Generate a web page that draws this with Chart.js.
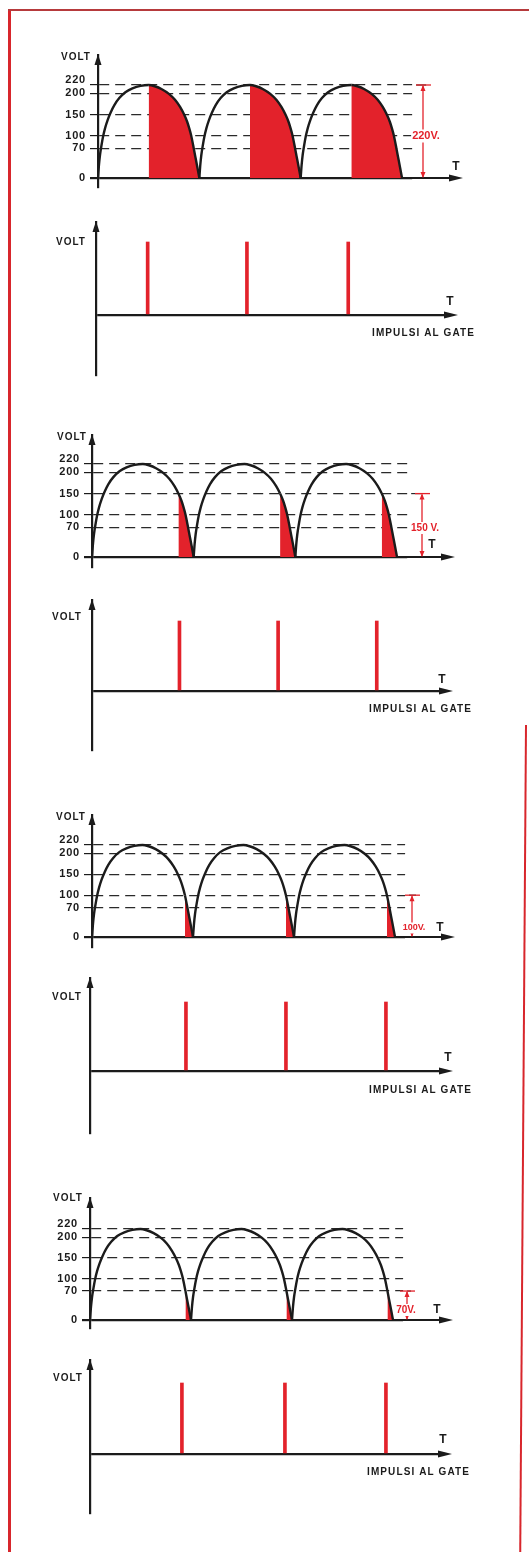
<!DOCTYPE html>
<html><head><meta charset="utf-8">
<script src="https://cdn.jsdelivr.net/npm/chart.js@4.4.1/dist/chart.umd.min.js"></script>
<style>
html,body{margin:0;padding:0;background:#fff;}
#page{position:relative;width:529px;height:1552px;overflow:hidden;background:#fff;}
#page canvas{position:absolute;left:0;}
.rb{position:absolute;background:#d8262c;}
</style></head><body>
<div id="page">
<div class="rb" style="left:8px;top:9px;width:2.5px;height:1543px"></div>
<div class="rb" style="left:8px;top:9px;width:521px;height:2px;background:#b63a3c"></div>
<div class="rb" style="left:525px;top:725px;width:2px;height:830px;transform:rotate(0.4deg);transform-origin:top left"></div>
</div>
<script>
// ---------- data ----------
const levels = [0, 70, 100, 150, 200, 220];            // volt tick labels / dashed reference lines
const waveT = [
  0, 1, 2, 3.5, 5, 7, 9.5, 12.5, 16, 21, 27, 34, 42, 50, 56, 63, 70, 76, 81, 85, 88, 90, 92, 94.5, 96, 98, 100, 100,
  100, 101, 102, 103.5, 105, 107, 109.5, 112.5, 116, 121, 127, 134, 142, 150, 156, 163, 170, 176, 181, 185, 188, 190, 192, 194.5, 196, 198, 200, 200,
  200, 201, 202, 203.5, 205, 207, 209.5, 212.5, 216, 221, 227, 234, 242, 250, 256, 263, 270, 276, 281, 285, 288, 290, 292, 294.5, 296, 298, 300
];
const waveV = [
  0, 32, 55, 78, 98, 118, 137, 155, 172, 189, 203, 212, 218, 220, 217, 210, 199, 185, 168, 150, 133, 118, 100, 70, 51, 26, 0, null,
  0, 32, 55, 78, 98, 118, 137, 155, 172, 189, 203, 212, 218, 220, 217, 210, 199, 185, 168, 150, 133, 118, 100, 70, 51, 26, 0, null,
  0, 32, 55, 78, 98, 118, 137, 155, 172, 189, 203, 212, 218, 220, 217, 210, 199, 185, 168, 150, 133, 118, 100, 70, 51, 26, 0
];
const archEnd = [100, 200, 300];
const fireLevels = [220, 150, 100, 70];
const fireT = [[50, 150, 250], [85, 185, 285], [92, 192, 292], [94.5, 194.5, 294.5]];
const pulseT = [[51, 149, 249], [86, 183, 280], [95, 194, 293], [91, 193, 293]];
const pulseV = [1, 1, 1];
const markLabels = ['220V.', '150 V.', '100V.', '70V.'];
const axisTitleY = 'VOLT';
const axisTitleX = 'T';
const gateTitle = 'IMPULSI AL GATE';

// ---------- style ----------
const INK = '#1b1b1b';
const DASH = '#2a2a2a';
const RED = '#e3222b';
const FONT = "'Liberation Sans', Arial, sans-serif";
const X_END = 310;
const page = document.getElementById('page');

const spacing = {
  id: 'spacing',
  beforeDraw(chart) { chart.ctx.letterSpacing = '0.8px'; }
};

const decor = {
  id: 'decor',
  afterDraw(chart, _a, o) {
    const {ctx, chartArea: a, scales: {y}} = chart;
    const off = o.top;
    const ax = a.left;
    const y0 = y.getPixelForValue(0);
    ctx.save();
    ctx.fillStyle = INK; ctx.strokeStyle = INK; ctx.lineWidth = 2.2;
    ctx.beginPath(); ctx.moveTo(ax, a.top - 1); ctx.lineTo(ax - 3.5, a.top + 10); ctx.lineTo(ax + 3.5, a.top + 10); ctx.closePath(); ctx.fill();
    const tip = o.xTip;
    ctx.beginPath(); ctx.moveTo(a.right - 2, y0); ctx.lineTo(tip - 10, y0); ctx.stroke();
    ctx.beginPath(); ctx.moveTo(tip, y0); ctx.lineTo(tip - 14, y0 - 3.5); ctx.lineTo(tip - 14, y0 + 3.5); ctx.closePath(); ctx.fill();
    ctx.textAlign = 'center'; ctx.textBaseline = 'middle';
    ctx.font = 'bold 10px ' + FONT;
    ctx.letterSpacing = '1px';
    ctx.fillText(axisTitleY, o.volt[0], o.volt[1] - off);
    ctx.font = 'bold 12px ' + FONT;
    ctx.letterSpacing = '0px';
    ctx.fillText(axisTitleX, o.t[0], o.t[1] - off);
    if (o.gate) {
      ctx.font = 'bold 10px ' + FONT; ctx.letterSpacing = '1.1px'; ctx.textAlign = 'right';
      ctx.fillText(gateTitle, o.gate[0], o.gate[1] - off);
    }
    if (o.mark) {
      const m = o.mark;
      const yl = y.getPixelForValue(m.level);
      ctx.save(); ctx.strokeStyle = DASH; ctx.lineWidth = 1.2; ctx.setLineDash([10, 6]);
      ctx.beginPath(); ctx.moveTo(a.right + 4, yl); ctx.lineTo(m.x + 4, yl); ctx.stroke(); ctx.restore();
      ctx.strokeStyle = RED; ctx.fillStyle = RED; ctx.lineWidth = 1.3;
      ctx.beginPath(); ctx.moveTo(m.x - 7, yl); ctx.lineTo(m.x + 8, yl); ctx.stroke();
      ctx.beginPath(); ctx.moveTo(m.x, yl + 1); ctx.lineTo(m.x, y0 - 1); ctx.stroke();
      ctx.beginPath(); ctx.moveTo(m.x, yl); ctx.lineTo(m.x - 2.5, yl + 6); ctx.lineTo(m.x + 2.5, yl + 6); ctx.closePath(); ctx.fill();
      ctx.beginPath(); ctx.moveTo(m.x, y0); ctx.lineTo(m.x - 2.5, y0 - 6); ctx.lineTo(m.x + 2.5, y0 - 6); ctx.closePath(); ctx.fill();
      ctx.font = 'bold ' + m.size + 'px ' + FONT; ctx.letterSpacing = '0px'; ctx.textAlign = 'center';
      const w = ctx.measureText(m.label).width;
      ctx.fillStyle = '#fff';
      ctx.fillRect(m.lx - w / 2 - 1, m.ly - off - m.size / 2 - 1, w + 2, m.size + 2);
      ctx.fillStyle = RED;
      ctx.fillText(m.label, m.lx, m.ly - off);
    }
    ctx.restore();
  }
};

function addCanvas(top, H) {
  const cv = document.createElement('canvas');
  cv.width = 529; cv.height = H;
  cv.style.top = top + 'px'; cv.style.width = '529px'; cv.style.height = H + 'px';
  page.appendChild(cv);
  return cv;
}

function waveChart(i, g) {
  const pxV = (g.y0 - g.y220) / 220;
  const pxT = (g.x300 - g.ax) / 300;
  const top = g.yTop - 22;
  const H = g.yBot - top + 16;
  const right = g.ax + X_END * pxT;
  const cv = addCanvas(top, H);
  const fires = fireT[i];
  const isZero = c => c.tick && c.tick.value === 0;
  new Chart(cv, {
    type: 'line',
    data: { datasets: [{
      data: waveT.map((t, k) => ({x: t, y: waveV[k]})),
      borderColor: INK, borderWidth: 2.4, pointRadius: 0,
      cubicInterpolationMode: 'monotone', spanGaps: false,
      fill: 'origin', backgroundColor: 'rgba(0,0,0,0)',
      segment: {
        backgroundColor: c => {
          const x0 = c.p0.parsed.x;
          const k = archEnd.findIndex(e => x0 < e);
          return (k >= 0 && x0 >= fires[k] - 1e-6) ? RED : 'rgba(0,0,0,0)';
        }
      }
    }]},
    options: {
      responsive: false, animation: false, devicePixelRatio: 1,
      layout: { padding: { left: g.ax - 40, right: 529 - right, top: g.yTop - top, bottom: H - (g.yBot - top) } },
      plugins: {
        legend: {display: false}, tooltip: {enabled: false},
        decor: { top, xTip: g.xTip, volt: g.volt, t: g.t,
          mark: { x: g.mx, level: fireLevels[i], label: markLabels[i], lx: g.lx, ly: g.ly, size: g.ls } }
      },
      scales: {
        x: { type: 'linear', min: 0, max: X_END, display: false },
        y: {
          type: 'linear', min: -(g.yBot - g.y0) / pxV, max: (g.y0 - g.yTop) / pxV,
          afterBuildTicks: s => { s.ticks = levels.map(v => ({value: v})); },
          afterFit: s => { s.width = 40; },
          ticks: {
            autoSkip: false, color: INK, padding: 4,
            font: {family: FONT, size: 11, weight: 'bold', lineHeight: 1.0},
            callback: v => v === levels[levels.length - 1] ? [String(v), ''] : String(v)
          },
          grid: {
            color: c => isZero(c) ? INK : DASH,
            lineWidth: c => isZero(c) ? 2.2 : 1.2,
            tickLength: 8, tickColor: INK, tickWidth: c => isZero(c) ? 2.2 : 1.2, tickBorderDash: []
          },
          border: { display: true, color: INK, width: 2.2, dash: c => (c.tick && c.tick.value !== 0) ? [10, 6] : [] }
        }
      }
    },
    plugins: [spacing, decor]
  });
}

function pulseChart(i, g) {
  const pxU = g.y0 - g.yP;
  const top = g.yTop - 22;
  const H = g.yBot - top + 10;
  const right = g.xTip - 8;
  const xMax = (right - g.ax) / g.pxT;
  const cv = addCanvas(top, H);
  new Chart(cv, {
    type: 'bar',
    data: { datasets: [{ data: pulseT[i].map((t, k) => ({x: t, y: pulseV[k]})), backgroundColor: RED, barThickness: 3 }] },
    options: {
      responsive: false, animation: false, devicePixelRatio: 1,
      layout: { padding: { left: g.ax - 40, right: 529 - right, top: g.yTop - top, bottom: H - (g.yBot - top) } },
      plugins: { legend: {display: false}, tooltip: {enabled: false},
        decor: { top, xTip: g.xTip, volt: g.volt, t: g.t, gate: g.gate } },
      scales: {
        x: { type: 'linear', min: 0, max: xMax, offset: false, display: false },
        y: {
          type: 'linear', min: -(g.yBot - g.y0) / pxU, max: (g.y0 - g.yTop) / pxU,
          afterBuildTicks: s => { s.ticks = [{value: 0}]; },
          afterFit: s => { s.width = 40; },
          ticks: { display: false },
          grid: { color: INK, lineWidth: 2.2, drawTicks: false },
          border: { display: true, color: INK, width: 2.2 }
        }
      }
    },
    plugins: [decor]
  });
}

// ---------- layout of the eight panels (pixels) ----------
waveChart(0, {ax: 98, y0: 178, y220: 85, x300: 402, yTop: 55, yBot: 187, xTip: 463, volt: [76, 57], t: [456, 167], mx: 423, lx: 426, ly: 136, ls: 11});
pulseChart(0, {ax: 96, y0: 315, yP: 242, yTop: 222, yBot: 375, xTip: 458, pxT: 1.013, volt: [71, 242], t: [450, 302], gate: [475, 333]});
waveChart(1, {ax: 92, y0: 557, y220: 464, x300: 397, yTop: 435, yBot: 567, xTip: 455, volt: [72, 437], t: [432, 545], mx: 422, lx: 425, ly: 528, ls: 10});
pulseChart(1, {ax: 92, y0: 691, yP: 621, yTop: 600, yBot: 750, xTip: 453, pxT: 1.017, volt: [67, 617], t: [442, 680], gate: [472, 709]});
waveChart(2, {ax: 92, y0: 937, y220: 845, x300: 395, yTop: 815, yBot: 947, xTip: 455, volt: [71, 817], t: [440, 928], mx: 412, lx: 414, ly: 928, ls: 9});
pulseChart(2, {ax: 90, y0: 1071, yP: 1002, yTop: 978, yBot: 1133, xTip: 453, pxT: 1.01, volt: [67, 997], t: [448, 1058], gate: [472, 1090]});
waveChart(3, {ax: 90, y0: 1320, y220: 1229, x300: 393, yTop: 1198, yBot: 1328, xTip: 453, volt: [68, 1198], t: [437, 1310], mx: 407, lx: 406, ly: 1310, ls: 10});
pulseChart(3, {ax: 90, y0: 1454, yP: 1383, yTop: 1360, yBot: 1513, xTip: 452, pxT: 1.01, volt: [68, 1378], t: [443, 1440], gate: [470, 1472]});
</script>
</body></html>
